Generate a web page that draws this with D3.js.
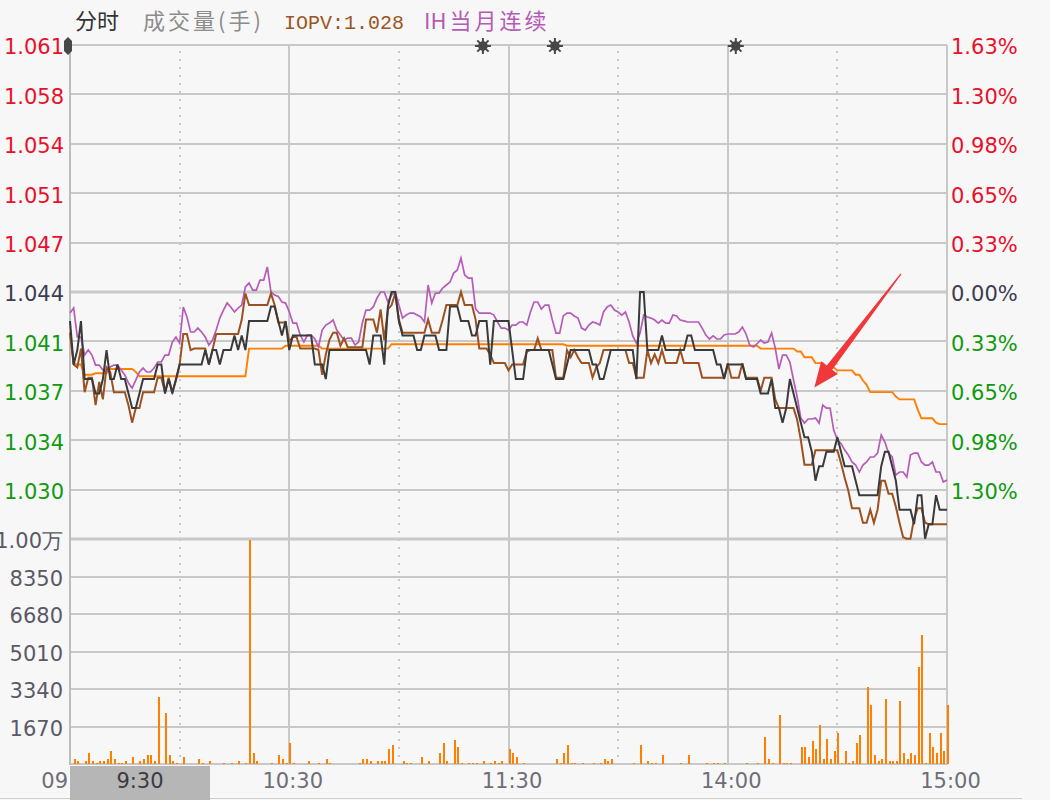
<!DOCTYPE html>
<html><head><meta charset="utf-8">
<script src="https://cdn.jsdelivr.net/npm/d3@7"></script>
<style>
html,body{margin:0;padding:0;background:#f7f7f7;}
svg{display:block;}
</style></head>
<body><svg id="chart" width="1050" height="800"></svg>
<script>
// ---------------- DATA ----------------
const prevClose = 1.044;
const pctRange = 1.63;
const volMax = 10020;

const pctTicks = [1.63, 1.304, 0.978, 0.652, 0.326, 0, -0.326, -0.652, -0.978, -1.304, -1.63];
const priceTickLabels = ["1.061","1.058","1.054","1.051","1.047","1.044","1.041","1.037","1.034","1.030"];
const pctTickLabels = ["1.63%","1.30%","0.98%","0.65%","0.33%","0.00%","0.33%","0.65%","0.98%","1.30%"];
const volTicks = [1670, 3340, 5010, 6680, 8350, 10020];
const volTickLabels = ["1670","3340","5010","6680","8350","1.00万"];
const timeTickMinutes = [60, 120, 180, 240];
const timeTickLabels = ["10:30","11:30","14:00","15:00"];
const solidGridMinutes = [0, 60, 120, 180, 240];
const dottedGridMinutes = [30, 90, 150, 210];
const eventMarkerMinutes = [113.0, 132.7, 182.2];

// ETF price per minute (0 = 9:30 ... 120 = 11:30/13:00 ... 240 = 15:00)
const etfPrice = [
1.042,1.039,1.040,1.042,1.038,1.038,1.038,1.037,1.037,1.038,
1.040,1.038,1.038,1.039,1.038,1.038,1.037,1.036,1.036,1.037,
1.038,1.038,1.038,1.038,1.039,1.039,1.037,1.038,1.037,1.038,
1.039,1.039,1.039,1.039,1.039,1.039,1.039,1.040,1.039,1.040,
1.040,1.039,1.040,1.040,1.040,1.041,1.040,1.041,1.040,1.042,
1.042,1.042,1.042,1.042,1.042,1.043,1.043,1.042,1.041,1.042,
1.040,1.041,1.041,1.041,1.041,1.041,1.041,1.039,1.039,1.039,
1.038,1.040,1.040,1.040,1.040,1.040,1.040,1.040,1.040,1.040,
1.040,1.040,1.039,1.041,1.041,1.041,1.039,1.043,1.044,1.044,
1.042,1.041,1.041,1.041,1.041,1.040,1.040,1.041,1.041,1.041,
1.041,1.040,1.040,1.040,1.043,1.043,1.043,1.042,1.042,1.042,
1.041,1.041,1.042,1.042,1.042,1.039,1.042,1.042,1.042,1.042,
1.042,1.040,1.038,1.038,1.038,1.040,1.040,1.040,1.040,1.040,
1.040,1.040,1.039,1.038,1.038,1.038,1.039,1.040,1.040,1.040,
1.040,1.040,1.040,1.039,1.039,1.038,1.038,1.039,1.040,1.040,
1.040,1.040,1.040,1.040,1.040,1.038,1.044,1.044,1.040,1.040,
1.040,1.040,1.041,1.040,1.040,1.040,1.040,1.040,1.040,1.041,
1.041,1.040,1.040,1.040,1.040,1.040,1.040,1.039,1.039,1.038,
1.039,1.039,1.039,1.039,1.039,1.038,1.038,1.038,1.038,1.037,
1.037,1.037,1.038,1.036,1.036,1.035,1.036,1.038,1.037,1.036,
1.035,1.034,1.034,1.033,1.031,1.032,1.032,1.033,1.033,1.033,
1.034,1.033,1.032,1.032,1.032,1.031,1.030,1.030,1.030,1.030,
1.030,1.030,1.032,1.033,1.033,1.032,1.031,1.029,1.029,1.029,
1.029,1.028,1.030,1.030,1.027,1.028,1.028,1.030,1.029,1.029,
1.029];

// IOPV per minute
const iopv = [
1.0412,1.0390,1.0388,1.0401,1.0371,1.0381,1.0381,1.0362,1.0378,1.0366,
1.0388,1.0385,1.0371,1.0371,1.0371,1.0371,1.0362,1.0350,1.0360,1.0360,
1.0371,1.0371,1.0371,1.0371,1.0381,1.0381,1.0371,1.0381,1.0371,1.0379,
1.0390,1.0411,1.0411,1.0400,1.0401,1.0401,1.0401,1.0401,1.0390,1.0400,
1.0411,1.0411,1.0411,1.0411,1.0411,1.0411,1.0411,1.0421,1.0439,1.0431,
1.0431,1.0431,1.0431,1.0431,1.0431,1.0439,1.0431,1.0419,1.0419,1.0419,
1.0406,1.0409,1.0409,1.0401,1.0401,1.0401,1.0401,1.0401,1.0400,1.0383,
1.0397,1.0407,1.0412,1.0412,1.0403,1.0408,1.0402,1.0402,1.0402,1.0402,
1.0402,1.0421,1.0421,1.0421,1.0412,1.0428,1.0407,1.0428,1.0431,1.0439,
1.0421,1.0412,1.0412,1.0412,1.0412,1.0412,1.0412,1.0412,1.0421,1.0412,
1.0412,1.0412,1.0421,1.0431,1.0431,1.0431,1.0431,1.0440,1.0431,1.0431,
1.0431,1.0421,1.0401,1.0401,1.0401,1.0397,1.0391,1.0391,1.0391,1.0391,
1.0386,1.0390,1.0390,1.0390,1.0390,1.0399,1.0400,1.0400,1.0408,1.0400,
1.0400,1.0400,1.0400,1.0381,1.0381,1.0381,1.0400,1.0395,1.0400,1.0395,
1.0391,1.0391,1.0391,1.0381,1.0388,1.0391,1.0400,1.0400,1.0400,1.0400,
1.0400,1.0400,1.0400,1.0391,1.0391,1.0381,1.0381,1.0381,1.0400,1.0391,
1.0397,1.0391,1.0400,1.0391,1.0391,1.0391,1.0391,1.0400,1.0391,1.0391,
1.0391,1.0391,1.0391,1.0381,1.0381,1.0381,1.0381,1.0381,1.0381,1.0381,
1.0391,1.0381,1.0381,1.0381,1.0391,1.0381,1.0381,1.0381,1.0381,1.0372,
1.0381,1.0381,1.0381,1.0366,1.0360,1.0360,1.0360,1.0360,1.0360,1.0352,
1.0338,1.0321,1.0321,1.0321,1.0331,1.0331,1.0331,1.0331,1.0331,1.0331,
1.0331,1.0322,1.0312,1.0303,1.0291,1.0291,1.0291,1.0281,1.0281,1.0290,
1.0281,1.0290,1.0310,1.0310,1.0301,1.0301,1.0292,1.0281,1.0271,1.0270,
1.0270,1.0284,1.0291,1.0291,1.0281,1.0280,1.0280,1.0280,1.0280,1.0280,
1.0280];

// IH current-month continuous, % change per minute
const ihPct = [
-0.139,-0.106,-0.297,-0.297,-0.416,-0.383,-0.416,-0.482,-0.482,-0.515,
-0.528,-0.495,-0.482,-0.482,-0.515,-0.548,-0.601,-0.634,-0.581,-0.528,
-0.502,-0.528,-0.528,-0.502,-0.462,-0.462,-0.416,-0.416,-0.330,-0.297,
-0.337,-0.099,-0.165,-0.264,-0.264,-0.238,-0.264,-0.297,-0.350,-0.317,
-0.251,-0.172,-0.119,-0.073,-0.099,-0.132,-0.106,-0.086,0.033,0.059,
0.013,0.013,0.079,0.079,0.165,0.000,-0.020,-0.030,-0.066,-0.073,
-0.130,-0.205,-0.205,-0.284,-0.330,-0.284,-0.284,-0.310,-0.363,-0.251,
-0.218,-0.205,-0.185,-0.251,-0.284,-0.317,-0.304,-0.304,-0.350,-0.330,
-0.205,-0.119,-0.119,-0.099,-0.040,0.000,0.000,-0.066,-0.020,0.000,
-0.086,-0.172,-0.152,-0.139,-0.139,-0.152,-0.165,-0.198,0.046,-0.073,
-0.007,-0.007,0.026,0.046,0.066,0.125,0.145,0.224,0.112,0.092,
0.092,-0.112,-0.139,-0.139,-0.139,-0.139,-0.152,-0.198,-0.238,-0.238,
-0.251,-0.218,-0.218,-0.198,-0.198,-0.218,-0.132,-0.066,-0.066,-0.112,
-0.086,-0.086,-0.185,-0.271,-0.271,-0.158,-0.139,-0.139,-0.158,-0.172,
-0.238,-0.251,-0.218,-0.198,-0.205,-0.218,-0.132,-0.099,-0.086,-0.119,
-0.132,-0.152,-0.132,-0.198,-0.290,-0.337,-0.271,-0.152,-0.165,-0.172,
-0.185,-0.205,-0.185,-0.205,-0.205,-0.152,-0.158,-0.185,-0.191,-0.198,
-0.198,-0.198,-0.198,-0.238,-0.284,-0.310,-0.290,-0.310,-0.310,-0.284,
-0.277,-0.277,-0.277,-0.264,-0.231,-0.277,-0.350,-0.363,-0.343,-0.317,
-0.337,-0.330,-0.271,-0.370,-0.508,-0.416,-0.416,-0.462,-0.581,-0.693,
-0.832,-0.865,-0.838,-0.838,-0.832,-0.865,-0.746,-0.766,-0.766,-0.911,
-0.977,-1.000,-1.043,-1.076,-1.122,-1.142,-1.188,-1.142,-1.122,-1.089,
-1.089,-1.063,-0.944,-0.990,-1.063,-1.089,-1.208,-1.188,-1.188,-1.221,
-1.076,-1.063,-1.063,-1.122,-1.142,-1.142,-1.122,-1.188,-1.188,-1.254,
-1.241];

// average price per minute
const avgPrice = [
1.0412,1.0391,1.0390,1.0390,1.0383,1.0383,1.0383,1.0384,1.0384,1.0384,
1.0384,1.0387,1.0387,1.0387,1.0387,1.0387,1.0387,1.0387,1.0385,1.0382,
1.0382,1.0382,1.0382,1.0382,1.0382,1.0382,1.0382,1.0382,1.0382,1.0382,
1.0382,1.0382,1.0382,1.0382,1.0382,1.0382,1.0382,1.0382,1.0382,1.0382,
1.0382,1.0382,1.0382,1.0382,1.0382,1.0382,1.0382,1.0382,1.0382,1.0401,
1.0401,1.0401,1.0401,1.0401,1.0401,1.0401,1.0401,1.0401,1.0401,1.0403,
1.0403,1.0403,1.0403,1.0403,1.0403,1.0403,1.0403,1.0403,1.0403,1.0401,
1.0401,1.0401,1.0401,1.0401,1.0401,1.0401,1.0401,1.0401,1.0401,1.0401,
1.0401,1.0401,1.0401,1.0401,1.0401,1.0401,1.0401,1.0401,1.0404,1.0404,
1.0404,1.0404,1.0404,1.0404,1.0404,1.0404,1.0404,1.0404,1.0404,1.0404,
1.0404,1.0404,1.0404,1.0404,1.0404,1.0404,1.0404,1.0404,1.0404,1.0404,
1.0404,1.0404,1.0404,1.0404,1.0404,1.0404,1.0404,1.0404,1.0404,1.0404,
1.0404,1.0404,1.0404,1.0404,1.0404,1.0404,1.0404,1.0404,1.0404,1.0404,
1.0404,1.0404,1.0404,1.0404,1.0404,1.0404,1.0403,1.0403,1.0403,1.0403,
1.0403,1.0403,1.0403,1.0403,1.0403,1.0403,1.0403,1.0403,1.0403,1.0403,
1.0403,1.0403,1.0403,1.0403,1.0403,1.0403,1.0403,1.0403,1.0403,1.0403,
1.0403,1.0403,1.0403,1.0403,1.0403,1.0403,1.0403,1.0403,1.0403,1.0403,
1.0403,1.0403,1.0403,1.0403,1.0403,1.0403,1.0403,1.0403,1.0403,1.0403,
1.0403,1.0403,1.0403,1.0403,1.0403,1.0403,1.0403,1.0403,1.0403,1.0401,
1.0401,1.0401,1.0401,1.0401,1.0401,1.0401,1.0401,1.0401,1.0401,1.0399,
1.0399,1.0395,1.0395,1.0395,1.0391,1.0391,1.0391,1.0388,1.0388,1.0388,
1.0386,1.0386,1.0386,1.0386,1.0386,1.0383,1.0383,1.0379,1.0376,1.0371,
1.0371,1.0371,1.0371,1.0371,1.0371,1.0371,1.0368,1.0366,1.0366,1.0366,
1.0366,1.0366,1.0359,1.0353,1.0353,1.0353,1.0353,1.0350,1.0349,1.0349,
1.0349];

// volume (lots) per minute
const volume = [
0,220,130,0,130,480,130,45,130,130,
220,565,220,45,45,130,0,305,0,130,
220,390,390,130,2980,0,2270,390,130,45,
0,305,0,0,0,220,45,0,130,0,
0,0,45,0,45,0,130,0,45,9980,
480,130,0,0,0,45,0,390,220,45,
915,45,0,0,0,130,0,0,45,0,
220,45,0,0,0,0,0,0,0,45,
220,220,130,0,130,130,130,655,830,0,
0,130,45,45,0,0,305,0,130,0,
0,480,915,130,0,1090,740,45,0,45,
45,45,0,130,0,45,130,45,130,0,
655,480,305,0,45,0,0,0,0,0,
0,0,0,220,45,480,830,45,45,0,
45,0,0,45,0,45,220,130,220,0,
0,0,0,0,45,0,830,0,130,45,
45,0,390,0,0,0,0,45,0,390,
0,0,0,0,45,0,45,45,0,45,
0,0,0,0,0,45,0,0,45,0,
1200,220,45,0,2180,45,45,45,0,0,
760,760,305,1030,670,1740,220,1110,220,580,
1380,45,580,45,130,935,1290,0,3430,2625,
400,130,220,2890,130,130,130,2800,490,220,
490,400,4320,5745,45,1380,760,490,1380,580,
2625];

// annotation arrow (time in minutes, % change)
const arrowTail = {minute: 227.4, pct: 0.12};
const arrowHead = {minute: 203.7, pct: -0.63};

// ---------------- CHART ----------------
const W = 1050, H = 800;
const X0 = 70, X1 = 947, YTOP = 45, YPB = 539, YVB = 764;
const NUM_FONT = "DejaVu Sans";
const CJK_FONT = "Noto Sans CJK SC";

const svg = d3.select("#chart");
svg.append("rect").attr("width", W).attr("height", H).attr("fill", "#f7f7f7");

const x = d3.scaleLinear().domain([0, 240]).range([X0, X1]);
const yPct = d3.scaleLinear().domain([-pctRange, pctRange]).range([YPB, YTOP]);
const yPrice = d3.scaleLinear()
  .domain([prevClose * (1 - pctRange / 100), prevClose * (1 + pctRange / 100)])
  .range([YPB, YTOP]);
const yVol = d3.scaleLinear().domain([0, volMax]).range([YVB, YPB]);

const GRID = "#c8c8c8";
const grid = svg.append("g");

// horizontal price grid
pctTicks.forEach(p => {
  const y = Math.round(yPct(p));
  const thick = (p === 0 || p === -pctRange);
  grid.append("line")
    .attr("x1", X0).attr("x2", X1).attr("y1", y).attr("y2", y)
    .attr("stroke", GRID).attr("stroke-width", thick ? 3 : 2);
});
// horizontal volume grid
volTicks.slice(0, 5).forEach(v => {
  const y = Math.round(yVol(v));
  grid.append("line").attr("x1", X0).attr("x2", X1).attr("y1", y).attr("y2", y)
    .attr("stroke", GRID).attr("stroke-width", 2);
});
grid.append("line").attr("x1", X0).attr("x2", X1).attr("y1", YVB).attr("y2", YVB)
  .attr("stroke", GRID).attr("stroke-width", 2);

// vertical grid
solidGridMinutes.forEach(m => {
  const xx = Math.round(x(m));
  grid.append("line").attr("x1", xx).attr("x2", xx).attr("y1", YTOP).attr("y2", YVB + 1)
    .attr("stroke", m === 0 ? "#bdbdbd" : GRID).attr("stroke-width", 2);
});
dottedGridMinutes.forEach(m => {
  const xx = Math.round(x(m));
  grid.append("line").attr("x1", xx).attr("x2", xx).attr("y1", YTOP + 6).attr("y2", YVB)
    .attr("stroke", GRID).attr("stroke-width", 2).attr("stroke-dasharray", "2,6");
});

// bottom border line
svg.append("line").attr("x1", 0).attr("x2", 1022).attr("y1", 798.5).attr("y2", 798.5)
  .attr("stroke", "#cfcfcf").attr("stroke-width", 1);

// volume bars
svg.append("g").selectAll("rect")
  .data(volume.map((v, i) => ({v, i})).filter(d => d.v > 0))
  .join("rect")
  .attr("x", d => Math.round(x(d.i)))
  .attr("width", 2)
  .attr("y", d => Math.round(yVol(d.v)))
  .attr("height", d => YVB - Math.round(yVol(d.v)))
  .attr("fill", "#ff7f00");

// lines
const priceLine = d3.line().x((d, i) => x(i)).y(d => yPrice(d));
const pctLine = d3.line().x((d, i) => x(i)).y(d => yPct(d));
const lines = svg.append("g").attr("fill", "none").attr("stroke-linejoin", "miter");
lines.append("path").datum(avgPrice).attr("d", priceLine).attr("stroke", "#ff7f00").attr("stroke-width", 1.9);
lines.append("path").datum(ihPct).attr("d", pctLine).attr("stroke", "#b65cb8").attr("stroke-width", 1.7);
lines.append("path").datum(iopv).attr("d", priceLine).attr("stroke", "#9c5220").attr("stroke-width", 2);
lines.append("path").datum(etfPrice).attr("d", priceLine).attr("stroke", "#3a3a3a").attr("stroke-width", 2);

// axes
const RED = "#e8102a", GREEN = "#109a10", NEUTRAL = "#3c3c50";
function colorFor(p) { return p > 0 ? RED : (p < 0 ? GREEN : NEUTRAL); }
const labelPcts = pctTicks.slice(0, 10);

const leftAxis = d3.axisLeft(yPct).tickValues(labelPcts)
  .tickFormat((d, i) => priceTickLabels[i]).tickSize(0).tickPadding(6);
svg.append("g").attr("transform", `translate(${X0},0)`).call(leftAxis)
  .call(g => g.select(".domain").remove())
  .call(g => g.selectAll("text").attr("font-family", NUM_FONT).attr("font-size", 21)
    .attr("dy", "0.42em").attr("fill", d => colorFor(d)));

const rightAxis = d3.axisRight(yPct).tickValues(labelPcts)
  .tickFormat((d, i) => pctTickLabels[i]).tickSize(0).tickPadding(4);
svg.append("g").attr("transform", `translate(${X1},0)`).call(rightAxis)
  .call(g => g.select(".domain").remove())
  .call(g => g.selectAll("text").attr("font-family", NUM_FONT).attr("font-size", 21)
    .attr("dy", "0.42em").attr("fill", d => colorFor(d)));

const volAxis = d3.axisLeft(yVol).tickValues(volTicks)
  .tickFormat((d, i) => volTickLabels[i]).tickSize(0).tickPadding(7);
svg.append("g").attr("transform", `translate(${X0},0)`).call(volAxis)
  .call(g => g.select(".domain").remove())
  .call(g => g.selectAll("text").attr("font-family", NUM_FONT).attr("font-size", 21)
    .attr("dy", "0.42em").attr("fill", "#5a5a66"));

// time axis
svg.append("rect").attr("x", X0).attr("y", YVB + 2).attr("width", 140).attr("height", H - YVB - 2)
  .attr("fill", "#b6b6b6");
const timeAxis = d3.axisBottom(x).tickValues(timeTickMinutes)
  .tickFormat((d, i) => timeTickLabels[i]).tickSize(0).tickPadding(9);
svg.append("g").attr("transform", `translate(3,${YVB})`).call(timeAxis)
  .call(g => g.select(".domain").remove())
  .call(g => g.selectAll("text").attr("font-family", NUM_FONT).attr("font-size", 21)
    .attr("fill", "#6e6e78"));
svg.append("text").attr("x", X0 - 2).attr("y", 788).attr("text-anchor", "end")
  .attr("font-family", NUM_FONT).attr("font-size", 21).attr("fill", "#6e6e78").text("09");
svg.append("text").attr("x", X0 + 70).attr("y", 788).attr("text-anchor", "middle")
  .attr("font-family", NUM_FONT).attr("font-size", 21).attr("fill", "#3a3a44").text("9:30");

// event markers (asterisk-like)
const mk = svg.append("g").attr("fill", "#474747").attr("stroke", "#474747");
eventMarkerMinutes.forEach(m => {
  const cx = x(m), cy = YTOP + 1;
  mk.append("circle").attr("cx", cx).attr("cy", cy).attr("r", 4.8).attr("stroke", "none");
  for (let k = 0; k < 4; k++) {
    const a = k * Math.PI / 4;
    mk.append("line")
      .attr("x1", cx - 8 * Math.cos(a)).attr("y1", cy - 8 * Math.sin(a))
      .attr("x2", cx + 8 * Math.cos(a)).attr("y2", cy + 8 * Math.sin(a))
      .attr("stroke-width", 2);
  }
});
// opening marker at left
{
  const cx = x(0) - 2, cy = YTOP + 1;
  svg.append("path")
    .attr("d", `M${cx},${cy - 9} L${cx + 4},${cy - 5} L${cx + 4},${cy + 5} L${cx},${cy + 9} L${cx - 4},${cy + 5} L${cx - 4},${cy - 5} Z`)
    .attr("fill", "#474747");
}

// red annotation arrow
{
  const tx = x(arrowTail.minute), ty = yPct(arrowTail.pct);
  const hx = x(arrowHead.minute), hy = yPct(arrowHead.pct);
  const dx = hx - tx, dy = hy - ty, len = Math.hypot(dx, dy);
  const ux = dx / len, uy = dy / len, nx = -uy, ny = ux;
  const headLen = 25, headW = 10.5, shaftW = 3.4, tailW = 0.6;
  const bx = hx - ux * headLen, by = hy - uy * headLen;
  const pts = [
    [tx + nx * tailW, ty + ny * tailW],
    [bx + nx * shaftW, by + ny * shaftW],
    [bx + nx * headW, by + ny * headW],
    [hx, hy],
    [bx - nx * headW, by - ny * headW],
    [bx - nx * shaftW, by - ny * shaftW],
    [tx - nx * tailW, ty - ny * tailW]
  ];
  svg.append("path").attr("d", "M" + pts.map(p => p.join(",")).join("L") + "Z")
    .attr("fill", "#f0383a");
}

// title row
const title = svg.append("g").attr("font-size", 22);
title.append("text").attr("x", 75).attr("y", 29).attr("font-family", CJK_FONT)
  .attr("fill", "#333").text("分时");
title.append("text").attr("x", 143).attr("y", 29).attr("font-family", CJK_FONT)
  .attr("fill", "#8c8c8c").attr("textLength", 118).attr("lengthAdjust", "spacing").text("成交量(手)");
title.append("text").attr("x", 284).attr("y", 29).attr("font-family", "Liberation Mono")
  .attr("font-size", 20).attr("fill", "#9a5522").text("IOPV:1.028");
const ih = title.append("text").attr("x", 424).attr("y", 29).attr("font-family", CJK_FONT)
  .attr("fill", "#b55bb5");
ih.append("tspan").text("IH");
ih.append("tspan").attr("dx", 3).attr("letter-spacing", 3).text("当月连续");
</script>
</body></html>
